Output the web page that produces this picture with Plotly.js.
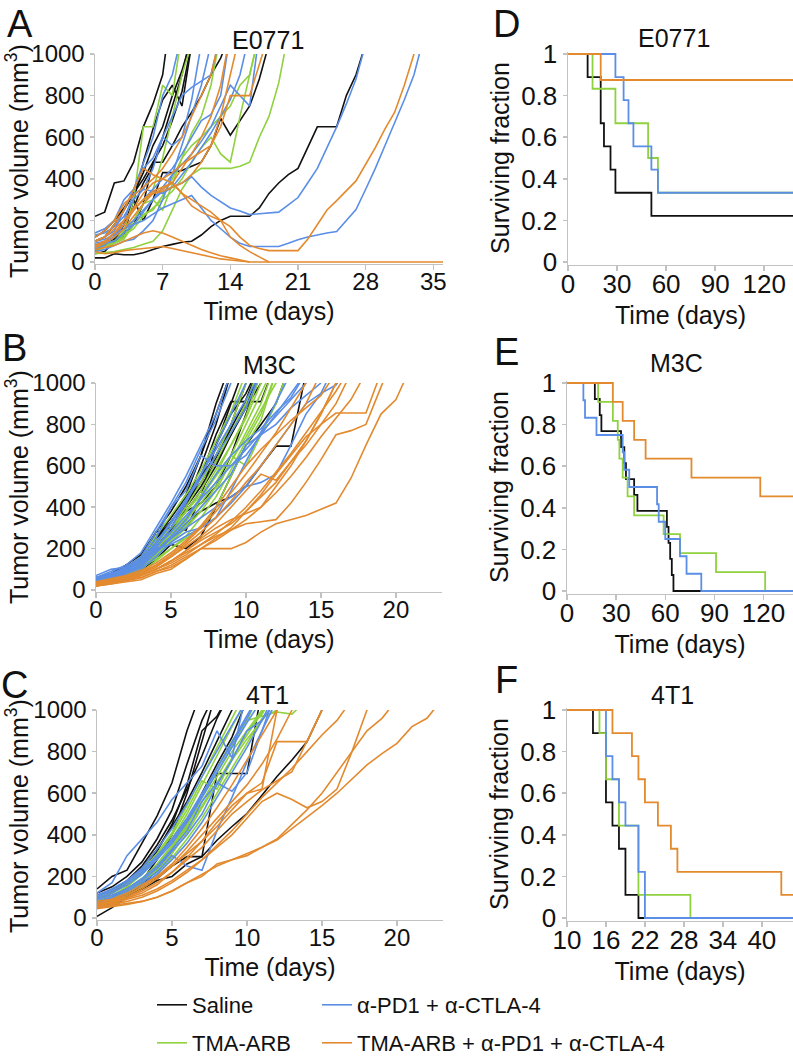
<!DOCTYPE html>
<html><head><meta charset="utf-8">
<script src="https://cdn.plot.ly/plotly-3.0.1.min.js"></script>
<style>html,body{margin:0;padding:0;background:#fff}#chart{width:793px;height:1060px}</style>
</head><body><div id="chart"></div>
<script>
// ---------------- DATA ----------------
const GROUPS = ['Saline', 'TMA-ARB', 'α-PD1 + α-CTLA-4', 'TMA-ARB + α-PD1 + α-CTLA-4'];
const CELL_LINES = ['E0771', 'M3C', '4T1'];
const PANEL_LETTERS = ['A', 'B', 'C', 'D', 'E', 'F'];

// Panel A: E0771 tumor growth (days, volumes in mm3; one array per mouse)
const A_days = [0,1,2,3,4,5,6,7,8,9,10,11,12,13,14,15,16,17,18,19,20,21,22,23,24,25,26,27,28,29,30,31,32,33,34,35,36];
const A_saline = [
  [220,240,380,390,480,650,760,900,1250],
  [20,20,40,35,35,45,60,75,85,95,100,130,170,200,220,220,220,260,330,380,420,450,550,650,650,650,800,900,1050],
  [50,90,95,130,300,200,300,430,430,440,460,480,560,690,610,680,750,880,1050],
  [80,90,110,180,300,480,640,780,850,750,1050],
  [60,80,100,120,180,280,480,480,560,650,720,800,900,980,1100],
  [100,120,180,250,330,430,560,650,800,920,1080],
  [40,50,100,180,260,380,460,600,750,900,1100],
  [120,150,200,260,330,400,480,560,680,820,1050]
];
const A_tma = [
  [60,80,100,150,300,650,650,850,800,1100],
  [70,80,90,120,200,280,350,500,700,900,1050],
  [50,70,90,130,160,220,260,300,340,400,480,550,600,520,480,700,900,1100],
  [40,45,50,60,70,85,100,150,250,350,420,450,450,450,450,460,480,600,700,860,1100],
  [80,90,100,150,200,280,300,250,380,500,560,600,650,700,750,850,900,1100],
  [60,80,90,110,180,230,250,320,400,500,620,700,850,1100]
];
const A_pd1 = [
  [140,160,200,300,350,480,600,800,900,1100],
  [100,120,150,250,350,450,500,600,700,800,840,870,900,1100],
  [80,90,100,140,180,240,300,360,420,470,520,580,650,750,850,800,750,1100],
  [70,90,120,180,250,300,350,400,450,520,600,680,710,800,1100],
  [90,100,120,160,200,250,300,340,360,380,410,360,320,290,260,245,228,232,236,240,275,310,380,450,550,650,760,880,1050],
  [100,110,130,160,180,200,230,260,280,300,320,260,200,160,120,90,75,75,75,75,90,107,120,131,140,147,200,252,350,450,560,668,780,900,1080],
  [60,80,120,200,330,350,340,330,360,420,480,550,620,700,780,900,1100],
  [50,60,80,100,110,150,200,300,420,560,700,850,1050],
  [130,140,170,220,300,350,450,600,560,600,780,1050]
];
const A_combo = [
  [100,120,160,200,260,330,380,400,430,470,500,530,560,650,800,800,800,950,1100],
  [120,150,200,280,320,360,400,450,520,600,700,800,900,1100],
  [100,120,180,250,350,450,420,400,380,330,300,270,240,200,120,80,50,25,0],
  [80,100,140,200,250,300,340,360,380,330,270,240,220,200,170,120,80,65,55,55,55,55,110,180,250,295,340,390,470,550,640,720,850,1000,1150],
  [60,70,80,100,120,140,150,140,120,100,80,60,45,30,20,10,0,0,0,0,0,0,0,0,0,0,0,0,0,0,0,0,0,0,0,0,0],
  [50,40,45,55,60,65,70,75,65,55,45,35,25,15,10,5,0],
  [80,100,140,180,250,300,330,340,360,380,420,480,560,700,900,1100],
  [70,90,120,160,220,280,330,350,380,450,520,600,700,850,1100]
];

// Panel B: M3C tumor growth
const B_days = [0,1,2,3,4,5,6,7,8,9,10,11,12,13,14,15,16,17,18,19,20,21,22,23];
const B_saline = [
  [40,60,100,140,260,350,460,650,900,1100],
  [30,50,80,130,250,330,420,600,800,1050],
  [50,70,110,150,280,300,290,450,700,900,1100],
  [20,40,60,100,180,280,400,550,750,910,910,910,1100],
  [40,50,80,110,200,300,380,420,500,650,850,1050],
  [30,40,60,90,150,220,200,260,400,550,700,800,900,1100],
  [50,70,100,150,250,350,450,550,650,800,1000,1100],
  [60,80,120,140,200,300,420,550,700,850,950,1100],
  [40,60,90,120,180,250,320,380,420,450,500,600,695,695,1050],
  [30,50,80,120,200,300,400,500,620,750,900,1050],
  [50,70,120,170,280,380,500,650,850,1050],
  [35,55,90,120,210,290,380,480,600,750,880,1000,1100],
  [45,60,100,150,240,330,420,520,640,780,920,1100]
];
const B_tma = [
  [40,60,90,130,210,280,380,480,620,760,900,1100],
  [30,50,80,110,180,250,330,440,560,700,840,1050],
  [50,70,100,150,240,300,400,520,650,800,1000,1100],
  [30,40,60,90,140,200,260,350,450,580,720,850,1050],
  [40,60,90,120,200,270,350,450,550,650,600,750,900,1100],
  [35,55,80,110,150,200,250,300,400,550,700,820,1050],
  [45,60,90,130,220,300,380,460,580,700,830,1000,1100],
  [30,50,70,100,160,230,300,380,480,620,760,900,1100],
  [40,55,80,120,190,260,340,420,520,650,800,950,1100],
  [50,70,110,160,260,360,460,580,720,860,1050],
  [35,50,75,105,170,240,310,400,500,620,740,870,1000,1100]
];
const B_pd1 = [
  [60,90,120,180,300,420,550,700,850,1050],
  [50,80,110,160,280,400,520,680,820,1000],
  [70,100,110,150,250,400,480,650,600,600,650,750,850,950,1050],
  [40,60,90,120,200,300,420,560,700,850,1000],
  [30,50,80,110,180,250,300,350,400,450,500,520,560,700,850,950,1100],
  [50,70,100,130,190,250,320,400,480,560,700,750,800,880,940,1000],
  [40,60,80,120,200,220,260,300,350,420,500,600,700,800,900,950,990,1100],
  [35,55,85,115,180,260,340,450,560,650,720,780,860,930,1050],
  [60,80,100,140,220,320,430,540,650,760,880,1050],
  [45,65,95,130,210,280,360,440,520,600,680,760,840,920,1000,1100],
  [55,75,105,140,230,330,440,560,680,800,920,1050],
  [30,45,70,100,160,230,280,300,350,480,620,760,900,1050]
];
const B_combo = [
  [20,30,40,50,80,100,150,200,250,300,380,450,520,620,700,800,900,1050],
  [30,40,50,60,90,110,150,200,200,200,230,280,320,340,360,390,420,540,700,850,920,1080],
  [30,40,50,70,100,130,170,220,260,290,320,330,340,420,520,630,750,770,800,980,1150],
  [20,35,50,70,100,140,190,240,280,320,380,460,560,650,740,800,855,855,855,1050],
  [30,45,60,80,110,160,210,260,320,400,480,560,530,620,720,850,1000,1100],
  [25,40,55,75,100,140,180,220,270,330,400,480,570,660,760,860,960,1080],
  [35,50,65,90,120,160,220,280,350,430,520,600,700,800,900,1050],
  [20,30,45,60,90,120,160,200,240,290,340,400,470,550,640,740,830,920,1050],
  [30,45,60,80,120,170,230,300,380,470,560,660,760,880,1000,1100],
  [40,55,70,95,130,180,240,310,400,500,600,680,750,820,880,940,1050],
  [25,35,50,70,100,140,190,250,300,340,370,400,500,600,720,850,1000,1100]
];

// Panel C: 4T1 tumor growth
const C_days = [0,1,2,3,4,5,6,7,8,9,10,11,12,13,14,15,16,17,18,19,20,21,22,23];
const C_saline = [
  [140,200,230,360,490,650,900,1100],
  [8,50,100,180,280,400,600,850,1100],
  [120,150,200,270,380,520,740,950,1100],
  [80,100,150,220,320,450,640,900,970,1100],
  [60,80,110,160,230,330,450,600,740,870,1050],
  [50,70,100,140,190,250,295,295,695,695,695,1100],
  [70,90,110,140,180,200,260,295,374,440,502,590,680,760,847,1000,1100],
  [90,120,170,240,330,440,560,700,850,1000,1100],
  [100,130,180,250,350,470,620,780,960,1100]
];
const C_tma = [
  [90,110,150,210,290,380,500,640,780,920,1050],
  [70,90,120,170,240,330,440,580,700,830,950,1100],
  [100,120,160,220,300,400,520,660,620,760,900,1000,1100],
  [80,100,130,180,250,340,450,560,680,800,900,980,1100],
  [60,80,110,150,210,290,380,480,600,720,840,960,1000,1100],
  [90,110,140,190,260,350,460,590,720,850,950,970,990,980,1050],
  [70,95,125,170,230,310,410,530,650,770,880,990,1100],
  [110,130,170,230,310,410,540,680,820,960,1100],
  [75,95,130,180,250,330,430,540,650,760,860,950,1050]
];
const C_pd1 = [
  [120,170,300,380,460,570,650,730,900,770,1100],
  [100,140,180,240,330,430,550,680,800,920,1050],
  [90,110,140,180,240,320,400,500,640,760,900,950,1050],
  [80,100,130,170,220,300,250,230,420,580,750,900,1050],
  [60,90,120,160,210,280,360,460,580,700,820,950,1100],
  [100,130,170,220,290,370,470,590,720,850,980,1100],
  [70,100,140,190,250,330,420,560,650,610,700,900,1100],
  [110,140,180,230,300,380,480,600,720,840,960,1100],
  [90,120,160,210,280,360,460,580,700,820,940,1050]
];
const C_combo = [
  [50,60,70,80,100,130,170,210,250,280,310,340,375,430,487,540,600,670,736,790,840,920,960,1050],
  [45,55,65,80,100,130,170,200,260,280,300,340,380,450,520,600,700,800,900,960,1050],
  [60,70,90,110,140,180,230,280,340,400,480,560,600,570,530,560,620,800,1000,1100],
  [55,65,80,100,130,170,220,280,350,420,500,580,650,720,800,880,950,1050],
  [70,80,100,130,170,220,280,340,420,500,560,616,660,704,850,1000,1100],
  [80,90,120,160,200,250,310,370,440,520,600,650,848,848,848,1000,1100],
  [60,75,95,120,160,220,290,370,460,540,600,620,1000,1100],
  [65,80,100,140,190,250,320,400,480,560,640,740,860,1000,1100],
  [70,85,110,150,200,260,340,430,530,640,760,880,1000,1100]
];

// Panels D-F: Kaplan-Meier survival (event times in days, surviving fraction)
const D_saline_t = [0,12,20,22,26,29,51,138];
const D_saline_s = [1,0.889,0.667,0.556,0.444,0.333,0.222,0.222];
const D_tma_t = [0,15,29,49,55,138];
const D_tma_s = [1,0.833,0.667,0.5,0.333,0.333];
const D_pd1_t = [0,29,34,37,40,51,55,138];
const D_pd1_s = [1,0.889,0.778,0.667,0.556,0.444,0.333,0.333];
const D_combo_t = [0,20,138];
const D_combo_s = [1,0.875,0.875];

const E_saline_t = [0,17,20,21,33,35,36,41,43,61,62,63,64,65,138];
const E_saline_s = [1,0.923,0.846,0.769,0.692,0.615,0.538,0.462,0.385,0.308,0.231,0.154,0.077,0,0];
const E_tma_t = [0,19,28,31,32,34,37,41,59,69,91,121,138];
const E_tma_s = [1,0.909,0.818,0.727,0.636,0.545,0.455,0.364,0.273,0.182,0.091,0,0];
const E_pd1_t = [0,10,11,18,34,35,38,55,56,60,69,73,82,138];
const E_pd1_s = [1,0.917,0.833,0.75,0.667,0.583,0.5,0.417,0.333,0.25,0.167,0.083,0,0];
const E_combo_t = [0,28,34,41,48,76,118,138];
const E_combo_s = [1,0.909,0.818,0.727,0.636,0.545,0.455,0.455];

const F_saline_t = [10,14,16,17,18,19,21,45];
const F_saline_s = [1,0.889,0.556,0.444,0.333,0.111,0,0];
const F_tma_t = [10,15,16,18,21,29,45];
const F_tma_s = [1,0.889,0.667,0.444,0.111,0,0];
const F_pd1_t = [10,16,17,18,19,21,22,45];
const F_pd1_s = [1,0.778,0.667,0.556,0.444,0.222,0,0];
const F_combo_t = [10,17,20,21,22,24,26,27,43,45];
const F_combo_s = [1,0.889,0.778,0.667,0.556,0.444,0.333,0.222,0.111,0.111];

const VOL_TICKS = [0,200,400,600,800,1000];
const FRAC_TICKS = [0,0.2,0.4,0.6,0.8,1];
const FRAC_LABELS = ['0','0.2','0.4','0.6','0.8','1'];
const A_TICKS = [0,7,14,21,28,35];
const BC_TICKS = [0,5,10,15,20];
const DE_TICKS = [0,30,60,90,120];
const F_TICKS = [10,16,22,28,34,40];

// ---------------- STYLE / LAYOUT ----------------
const W = 793, H = 1060;
const FONT = '"Liberation Sans", Arial, Helvetica, sans-serif';
const COLORS = ['#111111', '#8fd13f', '#5b8ee6', '#e38a2f'];
const LEGEND_IDS = ['legend', 'legend3', 'legend2', 'legend4'];
const xd = (a, b) => [a / W, b / W];
const yd = (top, bottom) => [1 - bottom / H, 1 - top / H];

const traces = [];
const growth = [
  {days: A_days, groups: [A_saline, A_tma, A_pd1, A_combo], xa: 'x', ya: 'y'},
  {days: B_days, groups: [B_saline, B_tma, B_pd1, B_combo], xa: 'x3', ya: 'y3'},
  {days: C_days, groups: [C_saline, C_tma, C_pd1, C_combo], xa: 'x5', ya: 'y5'}
];
growth.forEach((p, pi) => {
  p.groups.forEach((mice, gi) => {
    mice.forEach((vals, mi) => {
      const showLeg = (pi === 0 && mi === 0);
      traces.push({
        type: 'scatter', mode: 'lines',
        x: p.days.slice(0, vals.length), y: vals,
        xaxis: p.xa, yaxis: p.ya,
        line: {color: COLORS[gi], width: 1.6},
        name: GROUPS[gi], legendgroup: GROUPS[gi],
        showlegend: showLeg, legend: LEGEND_IDS[gi],
        hoverinfo: 'skip'
      });
    });
  });
});
const km = [
  {t: [D_saline_t, D_tma_t, D_pd1_t, D_combo_t], s: [D_saline_s, D_tma_s, D_pd1_s, D_combo_s], xa: 'x2', ya: 'y2'},
  {t: [E_saline_t, E_tma_t, E_pd1_t, E_combo_t], s: [E_saline_s, E_tma_s, E_pd1_s, E_combo_s], xa: 'x4', ya: 'y4'},
  {t: [F_saline_t, F_tma_t, F_pd1_t, F_combo_t], s: [F_saline_s, F_tma_s, F_pd1_s, F_combo_s], xa: 'x6', ya: 'y6'}
];
km.forEach(p => {
  p.t.forEach((t, gi) => {
    traces.push({
      type: 'scatter', mode: 'lines', x: t, y: p.s[gi],
      xaxis: p.xa, yaxis: p.ya,
      line: {color: COLORS[gi], width: 1.8, shape: 'hv'},
      name: GROUPS[gi], legendgroup: GROUPS[gi], showlegend: false,
      hoverinfo: 'skip'
    });
  });
});

const GRAY = '#c2c2c2';
function ax(extra, fs) {
  return Object.assign({
    showline: true, linecolor: GRAY, linewidth: 1.5,
    ticks: 'outside', ticklen: 5, tickwidth: 1.5, tickcolor: GRAY,
    showgrid: false, zeroline: false, fixedrange: true,
    tickfont: {family: FONT, size: fs, color: '#111'}
  }, extra);
}
const xTitle = (std) => ({text: 'Time (days)', font: {family: FONT, size: 25, color: '#111'}, standoff: std});
const kmYTitle = {text: 'Surviving fraction', font: {family: FONT, size: 25, color: '#111'}, standoff: 4};
const XLS = -9;  // pull x tick labels closer to the axis

const layout = {
  width: W, height: H,
  margin: {l: 0, r: 0, t: 0, b: 0, autoexpand: false},
  paper_bgcolor: '#fff', plot_bgcolor: '#fff',
  font: {family: FONT, color: '#111'},
  xaxis: ax({domain: xd(95, 443), range: [0, 36], tickvals: A_TICKS, anchor: 'y', ticklabelstandoff: XLS, title: xTitle(8)}, 24),
  yaxis: ax({domain: yd(54, 263.5), range: [-7, 1000], tickvals: VOL_TICKS, anchor: 'x', ticklen: 4}, 24),
  xaxis2: ax({domain: xd(568, 793), range: [0, 137.6], tickvals: DE_TICKS, anchor: 'y2', ticklabelstandoff: XLS, title: xTitle(8)}, 26),
  yaxis2: ax({domain: yd(51.5, 264.5), range: [-0.012, 1.012], tickvals: FRAC_TICKS, ticktext: FRAC_LABELS, anchor: 'x2', ticklen: 4, title: kmYTitle}, 26),
  xaxis3: ax({domain: xd(96, 442), range: [0, 23.07], tickvals: BC_TICKS, anchor: 'y3', ticklabelstandoff: XLS, title: xTitle(8)}, 24),
  yaxis3: ax({domain: yd(383, 591.5), range: [-7, 1000], tickvals: VOL_TICKS, anchor: 'x3', ticklen: 4}, 24),
  xaxis4: ax({domain: xd(567, 793), range: [0, 138], tickvals: DE_TICKS, anchor: 'y4', ticklabelstandoff: XLS, title: xTitle(8)}, 26),
  yaxis4: ax({domain: yd(380.5, 593.5), range: [-0.012, 1.012], tickvals: FRAC_TICKS, ticktext: FRAC_LABELS, anchor: 'x4', ticklen: 4, title: kmYTitle}, 26),
  xaxis5: ax({domain: xd(97, 443), range: [0, 23.07], tickvals: BC_TICKS, anchor: 'y5', ticklabelstandoff: XLS, title: xTitle(8)}, 24),
  yaxis5: ax({domain: yd(710, 919.5), range: [-7, 1000], tickvals: VOL_TICKS, anchor: 'x5', ticklen: 4}, 24),
  xaxis6: ax({domain: xd(567, 793), range: [10, 44.8], tickvals: F_TICKS, anchor: 'y6', ticklabelstandoff: XLS, title: xTitle(8)}, 26),
  yaxis6: ax({domain: yd(707.5, 920.5), range: [-0.012, 1.012], tickvals: FRAC_TICKS, ticktext: FRAC_LABELS, anchor: 'x6', ticklen: 4, title: kmYTitle}, 26),
  annotations: [],
  showlegend: true
};

// legends (one per entry, placed in two columns)
const legPos = {legend: [152, 1005], legend2: [317, 1005], legend3: [152, 1043], legend4: [317, 1043]};
Object.keys(legPos).forEach(k => {
  layout[k] = {
    x: legPos[k][0] / W, y: 1 - legPos[k][1] / H, xanchor: 'left', yanchor: 'middle',
    xref: 'paper', yref: 'paper', bgcolor: 'rgba(0,0,0,0)', borderwidth: 0,
    font: {family: FONT, size: 22, color: '#111'}, itemwidth: 30
  };
});

// panel letters
const letterPos = [[20, 24], [14, 348], [14, 685], [506, 24], [506, 352], [506, 680]];
PANEL_LETTERS.forEach((L, i) => {
  layout.annotations.push({
    text: L, xref: 'paper', yref: 'paper', x: letterPos[i][0] / W, y: 1 - letterPos[i][1] / H,
    xanchor: 'center', yanchor: 'middle', showarrow: false,
    font: {family: FONT, size: 38, color: '#111'}
  });
});
// panel titles
const titlePos = [[268, 40, 0], [269, 365, 1], [267, 695, 2], [674, 38, 0], [676, 363, 1], [672, 695, 2]];
titlePos.forEach(p => {
  layout.annotations.push({
    text: CELL_LINES[p[2]], xref: 'paper', yref: 'paper', x: p[0] / W, y: 1 - p[1] / H,
    xanchor: 'center', yanchor: 'middle', showarrow: false,
    font: {family: FONT, size: 25, color: '#111'}
  });
});
// tumor volume y titles
const yTitlePos = [[17, 161], [17, 487], [17, 816]];
yTitlePos.forEach(p => {
  layout.annotations.push({
    text: 'Tumor volume (mm<sup>3</sup>)', xref: 'paper', yref: 'paper', x: p[0] / W, y: 1 - p[1] / H,
    xanchor: 'center', yanchor: 'middle', showarrow: false, textangle: -90,
    font: {family: FONT, size: 25, color: '#111'}
  });
});

Plotly.newPlot('chart', traces, layout, {staticPlot: true, displayModeBar: false});
</script></body></html>
